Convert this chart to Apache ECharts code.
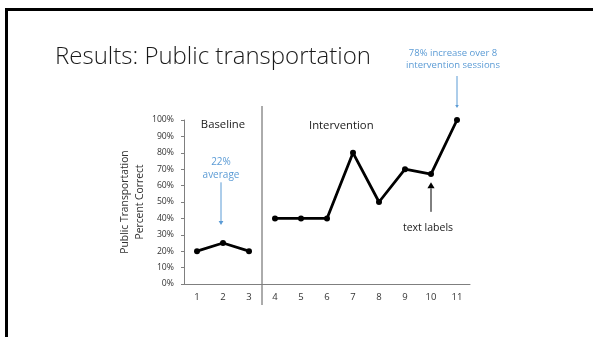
<!DOCTYPE html>
<html>
<head>
<meta charset="utf-8">
<script src="https://cdn.jsdelivr.net/npm/echarts@6/dist/echarts.min.js"></script>
<style>
  html, body { margin: 0; padding: 0; background: #fff; }
  #chart { width: 593px; height: 337px; }
</style>
</head>
<body>
<div id="chart"></div>
<script>
// Sessions and percent-correct scores for each phase
const sessions = ['1', '2', '3', '4', '5', '6', '7', '8', '9', '10', '11'];
const baselineScores = [20, 25, 20, null, null, null, null, null, null, null, null];
const interventionScores = [null, null, null, 40, 40, 40, 80, 50, 70, 67, 100];
const yTicks = [0, 10, 20, 30, 40, 50, 60, 70, 80, 90, 100];

const FONT = '"Open Sans", sans-serif';
const BLUE = '#5b9bd5';

const chart = echarts.init(document.getElementById('chart'), null, { renderer: 'canvas' });

const option = {
  animation: false,
  backgroundColor: '#fff',
  title: {
    text: 'Results: Public transportation',
    left: 50, top: 40,
    textStyle: { fontFamily: FONT, fontWeight: 300, fontSize: 24, color: '#1a1a1a' }
  },
  grid: { left: 184, right: 123, top: 120, bottom: 53 },
  xAxis: {
    type: 'category',
    data: sessions,
    boundaryGap: true,
    axisLine: { lineStyle: { color: '#7f7f7f', width: 1 } },
    axisTick: { alignWithLabel: true, inside: true, length: 3, lineStyle: { color: '#7f7f7f' } },
    axisLabel: { fontFamily: FONT, fontSize: 9.5, color: '#333', margin: 8 }
  },
  yAxis: {
    type: 'value',
    min: yTicks[0], max: yTicks[yTicks.length - 1], interval: 10,
    name: 'Public Transportation\nPercent Correct',
    nameLocation: 'middle',
    nameGap: 36,
    nameRotate: 90,
    nameTextStyle: { fontFamily: FONT, fontSize: 10.3, color: '#333', lineHeight: 15 },
    axisLine: { show: true, lineStyle: { color: '#7f7f7f', width: 1 } },
    axisTick: { show: true, length: 3, lineStyle: { color: '#7f7f7f' } },
    splitLine: { show: false },
    axisLabel: { fontFamily: FONT, fontSize: 8.7, color: '#333', margin: 10, formatter: '{value}%' }
  },
  series: [
    {
      name: 'Baseline', type: 'line', data: baselineScores,
      symbol: 'circle', symbolSize: 6,
      lineStyle: { color: '#000', width: 2.8 },
      itemStyle: { color: '#000' }
    },
    {
      name: 'Intervention', type: 'line', data: interventionScores,
      symbol: 'circle', symbolSize: 6,
      lineStyle: { color: '#000', width: 2.8 },
      itemStyle: { color: '#000' }
    }
  ]
};
chart.setOption(option);

// Annotation overlay placed through the chart's own coordinate system
const px = (cat, val) => chart.convertToPixel({ gridIndex: 0 }, [cat, val]);
const xAt = (i) => px(i, 0)[0];
const yAt = (v) => px(0, v)[1];
const step = xAt(1) - xAt(0);
const phaseX = (xAt(2) + xAt(3)) / 2;
const yTop = yAt(100), yZero = yAt(0);

function arrow(x, y1, y2, color, head) {
  // vertical arrow from y1 to y2, head at y2
  const dir = y2 > y1 ? 1 : -1;
  return [
    { type: 'line', shape: { x1: x, y1: y1, x2: x, y2: y2 - dir * head }, style: { stroke: color, lineWidth: 1 } },
    { type: 'polygon', shape: { points: [[x - head * 0.6, y2 - dir * head], [x + head * 0.6, y2 - dir * head], [x, y2]] }, style: { fill: color } }
  ];
}

const txt = (x, y, text, color, size, align) => ({
  type: 'text', x: x, y: y,
  style: { text: text, fill: color, font: size + 'px ' + FONT, textAlign: align || 'center', textVerticalAlign: 'middle' }
});

const xBase = xAt(1);
const x10 = xAt(9);
const x11 = xAt(10);

const graphics = [
  // slide frame
  { type: 'rect', shape: { x: 5, y: 8, width: 600, height: 3 }, style: { fill: '#000' } },
  { type: 'rect', shape: { x: 5, y: 8, width: 3, height: 340 }, style: { fill: '#000' } },
  // phase change line
  { type: 'line', shape: { x1: phaseX, y1: yTop - 14, x2: phaseX, y2: yZero + 21 }, style: { stroke: '#595959', lineWidth: 1 } },
  txt(xBase, yTop + 5, 'Baseline', '#1a1a1a', 11.3),
  txt(xAt(5) + 0.55 * step, yTop + 6, 'Intervention', '#1a1a1a', 11.3),
  txt(xBase - 2, yAt(74), '22%', BLUE, 10),
  txt(xBase - 2, yAt(66.5), 'average', BLUE, 10),
  ...arrow(xBase - 2, yAt(62), yAt(36), BLUE, 4),
  txt(x10 - 3, yAt(34), 'text labels', '#1a1a1a', 10.5),
  ...arrow(x10, yAt(44), yAt(62), '#000', 6),
  txt(x11 - 4, 53, '78% increase over 8', BLUE, 9.5),
  txt(x11 - 4, 65, 'intervention sessions', BLUE, 9.5),
  ...arrow(x11, 76, 108, BLUE, 3)
];
chart.setOption({ graphic: graphics });
</script>
</body>
</html>
